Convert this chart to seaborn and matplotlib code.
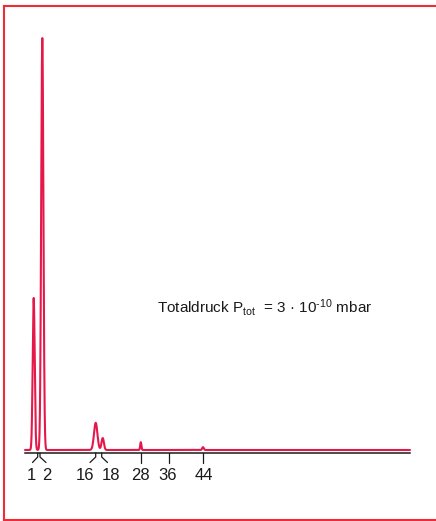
import numpy as np
import pandas as pd
import matplotlib
matplotlib.use("Agg")
import matplotlib.pyplot as plt
import seaborn as sns
from matplotlib.lines import Line2D

# Residual gas spectrum: peaks on a schematic scan axis (arbitrary scan units)
peak_mass = ["1", "2", "16", "18", "28", "44"]
peak_pos = [8.7, 17.3, 70.7, 77.7, 115.8, 178.0]
peak_height = [36.9, 100.0, 6.6, 2.9, 1.9, 0.7]   # relative ion current, %
peak_width = [1.0, 1.1, 1.7, 1.2, 0.6, 0.8]

# Mass-number axis: tick foot, bend end of the bracket, and label position
tick_labels = ["1", "2", "16", "18", "28", "36", "44"]
tick_pos = [12.7, 15.0, 70.7, 76.7, 116.0, 143.5, 178.0]
tick_bend = [7.5, 21.0, 65.0, 82.5, 116.0, 143.5, 178.0]
label_pos = [6.0, 22.0, 60.0, 85.7, 115.5, 143.0, 178.5]

pressure_text = "Totaldruck P$_{\\mathrm{tot}}$  = 3 · 10$^{\u2010\\mathrm{10}}$ mbar"

sns.set_theme(style="white")
plt.rcParams["font.family"] = ["Liberation Sans", "DejaVu Sans"]
plt.rcParams["mathtext.fontset"] = "custom"
plt.rcParams["mathtext.rm"] = "Liberation Sans"
plt.rcParams["mathtext.it"] = "Liberation Sans:italic"
plt.rcParams["mathtext.bf"] = "Liberation Sans:bold"

W, H = 436, 521
fig = plt.figure(figsize=(W / 100, H / 100), dpi=100)
fig.patch.set_facecolor("white")

ax_left, ax_right, ax_bottom, ax_top = 25, 410, 453, 38
ax = fig.add_axes([ax_left / W, 1 - ax_bottom / H,
                   (ax_right - ax_left) / W, (ax_bottom - ax_top) / H])
ax_h_px = ax_bottom - ax_top

x = np.linspace(0, ax_right - ax_left, 8001)
y = np.zeros_like(x)
for p, h, w in zip(peak_pos, peak_height, peak_width):
    y += h * np.exp(-0.5 * ((x - p) / w) ** 2)
spectrum = pd.DataFrame({"scan": x, "current": y})

curve_red = "#E5184A"
sns.lineplot(data=spectrum, x="scan", y="current", ax=ax, color=curve_red,
             linewidth=1.5, clip_on=False)

ax.set_xlim(0, ax_right - ax_left)
ax.set_ylim(-3 / 412 * 100, 100)
for side in ["top", "left", "right"]:
    ax.spines[side].set_visible(False)
ax.spines["bottom"].set_color("#1a1a1a")
ax.spines["bottom"].set_linewidth(1.1)
ax.set_yticks([])
ax.set_xlabel("")
ax.set_ylabel("")
ax.patch.set_alpha(0)

# tick labels on the mass axis
ax.set_xticks(label_pos, tick_labels)
ax.tick_params(axis="x", length=0, pad=11, labelsize=12, labelcolor="#1a1a1a")

# bracket-shaped tick marks below the axis
trans = ax.get_xaxis_transform()
stub = 4 / ax_h_px
foot = 9.5 / ax_h_px
for t, b in zip(tick_pos, tick_bend):
    if t == b:
        xs, ys = [t, t], [0, -foot]
    else:
        xs, ys = [t, t, b], [0, -stub, -foot]
    ax.plot(xs, ys, transform=trans, color="#1a1a1a", lw=0.9, clip_on=False,
            solid_joinstyle="miter")

fig.text(157 / W, 1 - 313 / H, pressure_text, fontsize=11, color="#1a1a1a",
         va="baseline", ha="left")

# red frame: left, top and bottom edges (open to the right)
frame_red = "#EF2B36"
fl, ft, fb = 3.5 / W, 1 - 6 / H, 1 - 519.5 / H
for xs, ys in [([fl, fl], [fb, ft]), ([fl, 1.05], [ft, ft]), ([fl, 1.05], [fb, fb])]:
    fig.add_artist(Line2D(xs, ys, transform=fig.transFigure, color=frame_red,
                          linewidth=1.5, solid_capstyle="projecting"))

fig.savefig("out.png", dpi=100)
